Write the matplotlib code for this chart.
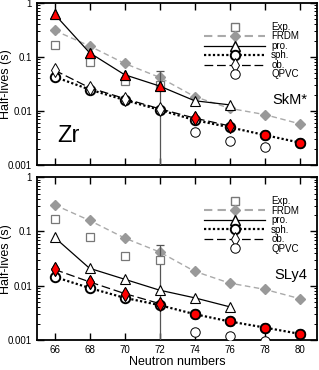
import matplotlib
matplotlib.use("Agg")
import matplotlib.pyplot as plt
from matplotlib.lines import Line2D
from matplotlib.ticker import LogLocator, NullFormatter, FixedLocator

plt.rcParams['font.family'] = ['Liberation Sans', 'DejaVu Sans']

N = [66, 68, 70, 72, 74, 76, 78, 80]

# experiment (same in both panels)
N_exp = [66, 68, 70, 72]
exp = [0.17, 0.08, 0.036, 0.03]
exp_err_up = 0.056

frdm = [0.31, 0.16, 0.076, 0.042, 0.0185, 0.0112, 0.0086, 0.0058]

# SkM*
N_pro_a = [66, 68, 70, 72, 74, 76]
pro_a = [0.62, 0.12, 0.047, 0.029, 0.0155, 0.013]
N_ob_a = [66, 68, 70, 72, 74, 76]
ob_a = [0.057, 0.027, 0.017, 0.011, 0.0074, 0.0053]
sph_a = [0.043, 0.025, 0.016, 0.0105, 0.0068, 0.005, 0.0036, 0.0026]
N_qp_a = [74, 76, 78]
qp_a = [0.004, 0.0028, 0.0022]
gs_pro_a = [66, 68, 70, 72]
gs_ob_a = [74, 76]
gs_sph_a = [78, 80]

# SLy4
N_pro_b = [66, 68, 70, 72, 74, 76]
pro_b = [0.078, 0.021, 0.0132, 0.0083, 0.006, 0.0041]
N_ob_b = [66, 68, 70, 72]
ob_b = [0.020, 0.0118, 0.0072, 0.0047]
sph_b = [0.0146, 0.0091, 0.006, 0.0044, 0.003, 0.0022, 0.0017, 0.0013]
N_qp_b = [74, 76, 78]
qp_b = [0.0014, 0.0012, 0.00098]
gs_pro_b = []
gs_ob_b = [66, 68, 70, 72]
gs_sph_b = [74, 76, 78, 80]

GRAY = '#999999'
RED = '#ff0000'


def pick(xs, ys, keep):
    return [x for x in xs if x in keep], [y for x, y in zip(xs, ys) if x in keep]


def panel(ax, pro, ob, sph, qp, gs, tag, big=None):
    N_pro, v_pro = pro
    N_ob, v_ob = ob
    N_qp, v_qp = qp
    ax.plot(N, frdm, ls=(0, (4, 2.5)), color='#aaaaaa', lw=1, marker='D', ms=5.3,
            mfc=GRAY, mec=GRAY, zorder=2)
    ax.errorbar(N_exp, exp, yerr=[[0, 0, 0, exp[3] - 1e-6], [0, 0, 0, exp_err_up - exp[3]]],
                fmt='s', ms=6.3, mfc='white', mec='#777777', mew=0.9, ecolor='#555555',
                elinewidth=0.9, capsize=3, zorder=3)
    ax.plot(N_pro, v_pro, '-', color='black', lw=0.9, marker='^', ms=7,
            mfc='white', mec='black', mew=0.8, zorder=4)
    ax.plot(N, sph, ls=(0, (1, 1)), color='black', lw=1.6, marker='o', ms=6.8,
            mfc='white', mec='black', mew=1.4, zorder=4)
    ax.plot(N_ob, v_ob, ls=(0, (7, 3)), color='black', lw=0.9, marker='d', ms=6.8,
            mfc='white', mec='black', mew=0.7, zorder=5)
    ax.plot(N_qp, v_qp, 'o', ms=6.8, mfc='white', mec='black', mew=0.7, zorder=4)
    x, y = pick(N_pro, v_pro, gs[0])
    ax.plot(x, y, '^', ms=7, mfc=RED, mec='black', mew=0.8, zorder=6)
    x, y = pick(N_ob, v_ob, gs[1])
    ax.plot(x, y, 'd', ms=6.8, mfc=RED, mec='black', mew=0.7, zorder=6)
    x, y = pick(N, sph, gs[2])
    ax.plot(x, y, 'o', ms=6.8, mfc=RED, mec='black', mew=1.2, zorder=6)

    ax.set_yscale('log')
    ax.set_ylim(0.001, 1)
    ax.set_xlim(65, 81)
    ax.xaxis.set_major_locator(FixedLocator(N))
    ax.yaxis.set_minor_locator(LogLocator(base=10, subs=range(2, 10), numticks=20))
    ax.yaxis.set_minor_formatter(NullFormatter())
    ax.set_yticks([0.001, 0.01, 0.1, 1])
    ax.set_yticklabels(['0.001', '0.01', '0.1', '1'])
    ax.tick_params(which='both', direction='in', top=True, right=True, labelsize=7)
    ax.tick_params(which='major', length=5, width=1)
    ax.tick_params(which='minor', length=2.5, width=0.7)
    for s in ax.spines.values():
        s.set_linewidth(1.3)
    ax.set_ylabel('Half-lives (s)', fontsize=9)
    ax.yaxis.set_label_coords(-0.088, 0.5)

    handles = [
        Line2D([], [], ls='none', marker='s', ms=6.3, mfc='white', mec='#777777'),
        Line2D([], [], ls=(0, (4, 2.5)), color='#aaaaaa', marker='D', ms=5.3, mfc=GRAY, mec=GRAY),
        Line2D([], [], ls='-', color='black', lw=0.9, marker='^', ms=7, mfc='white', mec='black'),
        Line2D([], [], ls=(0, (1, 1)), color='black', lw=1.6, marker='o', ms=6.8, mfc='white',
               mec='black', mew=1.4),
        Line2D([], [], ls=(0, (7, 3)), color='black', lw=0.9, marker='d', ms=6.8, mfc='white',
               mec='black', mew=0.7),
        Line2D([], [], ls='none', marker='o', ms=6.8, mfc='white', mec='black', mew=0.7),
    ]
    labels = ['Exp.', 'FRDM', 'pro.', 'sph.', 'ob.', 'QPVC']
    ax.legend(handles, labels, loc='upper right', bbox_to_anchor=(0.96, 0.925), frameon=False,
              fontsize=7, handlelength=6.3, handletextpad=0.6, labelspacing=-0.05,
              borderpad=0.2)
    ax.text(0.965, 0.40, tag, transform=ax.transAxes, ha='right', va='center', fontsize=10.5)
    if big:
        ax.text(0.072, 0.18, big, transform=ax.transAxes, ha='left', va='center', fontsize=17)


fig = plt.figure(figsize=(3.19, 3.70), dpi=100)
ax1 = fig.add_axes([0.116, 0.554, 0.878, 0.438])
ax2 = fig.add_axes([0.116, 0.081, 0.878, 0.44])

panel(ax1, (N_pro_a, pro_a), (N_ob_a, ob_a), sph_a, (N_qp_a, qp_a),
      (gs_pro_a, gs_ob_a, gs_sph_a), 'SkM*', big='Zr')
panel(ax2, (N_pro_b, pro_b), (N_ob_b, ob_b), sph_b, (N_qp_b, qp_b),
      (gs_pro_b, gs_ob_b, gs_sph_b), 'SLy4')
ax1.tick_params(axis='x', labelbottom=False)
ax2.set_xlabel('Neutron numbers', fontsize=9, labelpad=1)

fig.savefig('out.png', dpi=100)
